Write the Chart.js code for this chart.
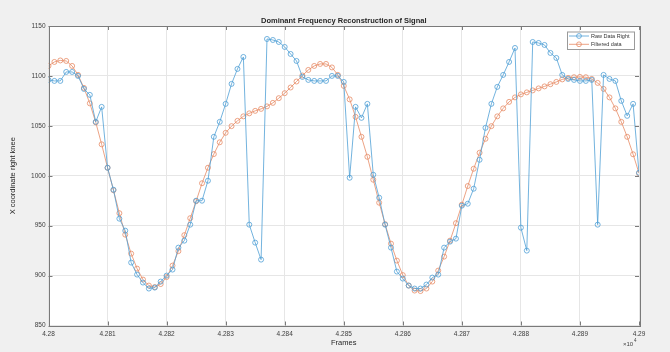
<!DOCTYPE html>
<html>
<head>
<meta charset="utf-8">
<script src="https://cdn.jsdelivr.net/npm/chart.js@4.4.1/dist/chart.umd.min.js"></script>
<style>
  html, body { margin: 0; padding: 0; background: #f0f0f0; }
  #wrap { width: 670px; height: 352px; }
</style>
</head>
<body>
<div id="wrap"><canvas id="chart" width="670" height="352"></canvas></div>
<script>
// frame numbers (x axis)
const frames = [
  42800, 42801, 42802, 42803, 42804, 42805, 42806, 42807, 42808, 42809,
  42810, 42811, 42812, 42813, 42814, 42815, 42816, 42817, 42818, 42819,
  42820, 42821, 42822, 42823, 42824, 42825, 42826, 42827, 42828, 42829,
  42830, 42831, 42832, 42833, 42834, 42835, 42836, 42837, 42838, 42839,
  42840, 42841, 42842, 42843, 42844, 42845, 42846, 42847, 42848, 42849,
  42850, 42851, 42852, 42853, 42854, 42855, 42856, 42857, 42858, 42859,
  42860, 42861, 42862, 42863, 42864, 42865, 42866, 42867, 42868, 42869,
  42870, 42871, 42872, 42873, 42874, 42875, 42876, 42877, 42878, 42879,
  42880, 42881, 42882, 42883, 42884, 42885, 42886, 42887, 42888, 42889,
  42890, 42891, 42892, 42893, 42894, 42895, 42896, 42897, 42898, 42899,
  42900
];

const rawDataRight = [
  1096, 1095, 1095, 1104, 1104, 1100, 1087, 1081, 1054, 1069,
  1008, 986, 957, 945, 913, 901, 893, 887, 888, 894,
  900, 906, 928, 935, 951, 975, 975, 995, 1039, 1054,
  1072, 1092, 1107, 1119, 951, 933, 916, 1137, 1136, 1134,
  1129, 1122, 1115, 1099, 1096, 1095, 1095, 1095, 1100, 1100,
  1094, 998, 1069, 1058, 1072, 1001, 978, 951, 928, 904,
  897, 890, 887, 887, 891, 898, 901, 928, 934, 937,
  970, 972, 987, 1016, 1048, 1072, 1089, 1101, 1114, 1128,
  948, 925, 1134, 1133, 1131, 1123, 1118, 1101, 1097, 1096,
  1095, 1095, 1096, 951, 1101, 1097, 1095, 1075, 1060, 1072,
  1003
];

const filteredData = [
  1110, 1114, 1115.5, 1115, 1110, 1101, 1088, 1072.5, 1053.5, 1031.5,
  1008, 985.5, 962.5, 941, 922, 907, 896, 890, 888.5, 891.5,
  898.5, 910, 924.5, 940.5, 957.5, 974.5, 992.5, 1008, 1021.7, 1033.5,
  1043, 1049.7, 1055, 1059.5, 1062.5, 1065, 1067, 1069.5, 1073, 1077.7,
  1082.7, 1088.4, 1094.4, 1100.4, 1106, 1110, 1112, 1112, 1108.5, 1101,
  1090, 1076.5, 1059, 1039, 1019, 996, 973, 951.5, 932, 915,
  900.5, 890, 885, 884.5, 887, 894, 905, 919, 935, 952.5,
  971, 989.7, 1007, 1023, 1037, 1049.7, 1059.5, 1067.5, 1074, 1078.5,
  1081.5, 1083.5, 1085.5, 1087.5, 1089.5, 1091.7, 1094, 1096.5, 1098, 1098.7,
  1099, 1098.7, 1097, 1093, 1087, 1078.5, 1067.5, 1054, 1039, 1021.5,
  1002.5
];

const xTicks = [42800, 42810, 42820, 42830, 42840, 42850, 42860, 42870, 42880, 42890, 42900];
const xTickLabels = ['4.28', '4.281', '4.282', '4.283', '4.284', '4.285', '4.286', '4.287', '4.288', '4.289', '4.29'];
const yTicks = [850, 900, 950, 1000, 1050, 1100, 1150];
const yTickLabels = ['850', '900', '950', '1000', '1050', '1100', '1150'];

const FONT = '"Liberation Sans", Arial, Helvetica, sans-serif';
const BLUE = '#4f9fd6';
const ORANGE = '#e78c66';

const toXY = arr => arr.map((v, i) => ({ x: frames[i], y: v }));

const background = {
  id: 'background',
  beforeDraw(chart) {
    const { ctx, chartArea: a } = chart;
    ctx.save();
    ctx.fillStyle = '#f0f0f0';
    ctx.fillRect(0, 0, chart.width, chart.height);
    ctx.fillStyle = '#ffffff';
    ctx.fillRect(a.left, a.top, a.right - a.left, a.bottom - a.top);
    ctx.restore();
  }
};

// box, inward ticks, title, legend and exponent like the matlab figure
const matlabAxes = {
  id: 'matlabAxes',
  afterDraw(chart) {
    const { ctx, chartArea: a, scales } = chart;
    ctx.save();
    ctx.strokeStyle = '#7a7a7a';
    ctx.lineWidth = 1;
    ctx.strokeRect(Math.round(a.left) + 0.5, Math.round(a.top) + 0.5,
      Math.round(a.right - a.left), Math.round(a.bottom - a.top));

    ctx.beginPath();
    xTicks.forEach(v => {
      const px = Math.round(scales.x.getPixelForValue(v)) + 0.5;
      ctx.moveTo(px, a.bottom); ctx.lineTo(px, a.bottom - 4);
      ctx.moveTo(px, a.top); ctx.lineTo(px, a.top + 4);
    });
    yTicks.forEach(v => {
      const py = Math.round(scales.y.getPixelForValue(v)) + 0.5;
      ctx.moveTo(a.left, py); ctx.lineTo(a.left + 4, py);
      ctx.moveTo(a.right, py); ctx.lineTo(a.right - 4, py);
    });
    ctx.stroke();

    // title
    ctx.fillStyle = '#262626';
    ctx.font = 'bold 7.5px ' + FONT;
    ctx.textAlign = 'center';
    ctx.textBaseline = 'middle';
    ctx.fillText('Dominant Frequency Reconstruction of Signal', (a.left + a.right) / 2, 20.5);

    // x10^4
    ctx.fillStyle = '#444';
    ctx.textAlign = 'left';
    ctx.font = '6px ' + FONT;
    ctx.fillText('\u00d710', 623, 344);
    ctx.font = '4.5px ' + FONT;
    ctx.fillText('4', 634, 340.5);

    // legend
    const lx = 567, ly = 31.5, lw = 67, lh = 17.5;
    ctx.fillStyle = '#ffffff';
    ctx.fillRect(lx, ly, lw, lh);
    ctx.strokeStyle = '#9a9a9a';
    ctx.strokeRect(lx + 0.5, ly + 0.5, lw, lh);
    const rows = [[BLUE, 'Raw Data Right', 36], [ORANGE, 'Filtered data', 44.3]];
    rows.forEach(([c, label, y]) => {
      ctx.strokeStyle = c;
      ctx.lineWidth = 0.8;
      ctx.beginPath();
      ctx.moveTo(569, y); ctx.lineTo(589, y);
      ctx.stroke();
      ctx.beginPath();
      ctx.arc(579, y, 2.4, 0, Math.PI * 2);
      ctx.stroke();
      ctx.fillStyle = '#333';
      ctx.font = '5.5px ' + FONT;
      ctx.textAlign = 'left';
      ctx.fillText(label, 591, y + 0.3);
    });
    ctx.restore();
  }
};

const chart = new Chart(document.getElementById('chart'), {
  type: 'line',
  data: {
    datasets: [
      {
        label: 'Raw Data Right',
        data: toXY(rawDataRight),
        borderColor: BLUE,
        borderWidth: 0.8,
        pointRadius: 2.5,
        pointBorderWidth: 0.8,
        pointBorderColor: BLUE,
        pointBackgroundColor: 'rgba(0,0,0,0)',
        fill: false,
        tension: 0,
      },
      {
        label: 'Filtered data',
        data: toXY(filteredData),
        borderColor: ORANGE,
        borderWidth: 0.8,
        pointRadius: 2.5,
        pointBorderWidth: 0.8,
        pointBorderColor: ORANGE,
        pointBackgroundColor: 'rgba(0,0,0,0)',
        fill: false,
        tension: 0,
      },
    ],
  },
  options: {
    responsive: false,
    animation: false,
    devicePixelRatio: 1,
    layout: { padding: { left: 0, right: 31, top: 26, bottom: 0 } },
    scales: {
      x: {
        type: 'linear',
        min: 42800,
        max: 42900,
        afterBuildTicks: s => { s.ticks = xTicks.map(v => ({ value: v })); },
        afterFit: s => { s.height = 26.5; },
        grid: { color: '#e6e6e6', drawTicks: false },
        border: { display: false },
        ticks: {
          padding: 5,
          color: '#404040',
          font: { family: FONT, size: 6.5 },
          maxRotation: 0,
          callback: (v, i) => xTickLabels[i],
        },
        title: {
          display: true,
          text: 'Frames',
          color: '#262626',
          font: { family: FONT, size: 7.5 },
          padding: { top: 0, bottom: 4.5 },
        },
      },
      y: {
        min: 850,
        max: 1150,
        afterBuildTicks: s => { s.ticks = yTicks.map(v => ({ value: v })); },
        afterFit: s => { s.width = 48.5; },
        grid: { color: '#e6e6e6', drawTicks: false },
        border: { display: false },
        ticks: {
          padding: 3,
          color: '#404040',
          font: { family: FONT, size: 6.5 },
          callback: (v, i) => yTickLabels[i],
        },
        title: {
          display: true,
          text: 'X coordinate right knee',
          color: '#262626',
          font: { family: FONT, size: 7.5 },
          padding: { top: 8, bottom: 0 },
        },
      },
    },
    plugins: {
      legend: { display: false },
      title: { display: false },
      tooltip: { enabled: false },
    },
  },
  plugins: [background, matlabAxes],
});
</script>
</body>
</html>
